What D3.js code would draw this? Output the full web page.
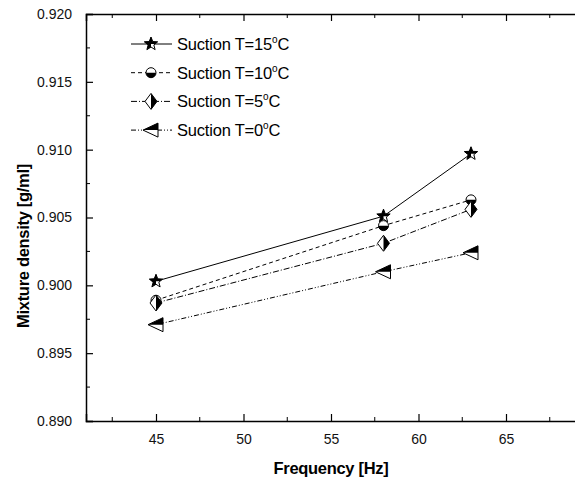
<!DOCTYPE html>
<html>
<head>
<meta charset="utf-8">
<script src="https://cdn.jsdelivr.net/npm/d3@7"></script>
<style>
  body { margin: 0; background: #fff; }
  svg { display: block; font-family: "Liberation Sans", Arial, sans-serif; }
</style>
</head>
<body>
<div id="container"></div>
<script>

const frequencies = [45, 58, 63];
const seriesNames = ["15", "10", "5", "0"];
const density15 = [0.9003, 0.9051, 0.9097];
const density10 = [0.8989, 0.9044, 0.9063];
const density5 = [0.8987, 0.9031, 0.9056];
const density0 = [0.8971, 0.9010, 0.9024];
const xTicks = [45, 50, 55, 60, 65];
const yTicks = [0.890, 0.895, 0.900, 0.905, 0.910, 0.915, 0.920];

function main() {
    const width = 575, height = 482;
    const margin = {left: 86, top: 14, right: 0, bottom: 61};

    const svg = d3.select("#container")
        .append("svg")
        .attr("width", width)
        .attr("height", height);

    const xScale = d3.scaleLinear()
        .domain([41, 69])
        .range([margin.left, margin.left + 28 * 17.5]);

    const yScale = d3.scaleLinear()
        .domain([0.890, 0.920])
        .range([height - margin.bottom, margin.top]);

    const defs = svg.append("defs");

    // axes: ticks point inward
    const xMinor = d3.range(42.5, 69, 5);
    const yMinor = d3.range(0.8925, 0.920, 0.005);

    const bottomAxis = svg.append("g")
        .attr("transform", `translate(0,${yScale(0.890)})`)
        .call(d3.axisBottom(xScale).tickValues(xTicks).tickSize(-7).tickPadding(13).tickFormat(d3.format("d")));
    bottomAxis.selectAll(".minor").data(xMinor).enter().append("line")
        .attr("x1", d => xScale(d)).attr("x2", d => xScale(d))
        .attr("y1", 0).attr("y2", -4).attr("stroke", "black");

    const topAxis = svg.append("g")
        .attr("transform", `translate(0,${yScale(0.920)})`)
        .call(d3.axisTop(xScale).tickValues(xTicks).tickSize(-7).tickFormat(""));
    topAxis.selectAll(".minor").data(xMinor).enter().append("line")
        .attr("x1", d => xScale(d)).attr("x2", d => xScale(d))
        .attr("y1", 0).attr("y2", 4).attr("stroke", "black");

    const leftAxis = svg.append("g")
        .attr("transform", `translate(${xScale(41)},0)`)
        .call(d3.axisLeft(yScale).tickValues(yTicks).tickSize(-7).tickPadding(14).tickFormat(d3.format(".3f")));
    leftAxis.selectAll(".minor").data(yMinor).enter().append("line")
        .attr("y1", d => yScale(d)).attr("y2", d => yScale(d))
        .attr("x1", 0).attr("x2", 4).attr("stroke", "black");

    svg.selectAll(".domain").attr("stroke-width", 1.5);
    svg.selectAll(".tick line").attr("stroke-width", 1.2);
    svg.selectAll(".tick text")
        .attr("font-size", 14)
        .attr("fill", "#111")
        .attr("font-family", "Liberation Sans, Arial, sans-serif");

    // axis titles
    svg.append("text")
        .attr("x", 331)
        .attr("y", 474)
        .attr("text-anchor", "middle")
        .attr("font-size", 16.5)
        .attr("font-weight", "bold")
        .attr("letter-spacing", -0.3)
        .text("Frequency [Hz]");

    svg.append("text")
        .attr("transform", "translate(29,246) rotate(-90)")
        .attr("text-anchor", "middle")
        .attr("font-size", 16.5)
        .attr("font-weight", "bold")
        .attr("letter-spacing", -0.3)
        .text("Mixture density [g/ml]");

    // half-fill clips
    const clips = {
        left: [-20, -20, 20, 40],
        right: [0, -20, 20, 40],
        top: [-20, -20, 40, 20],
        bottom: [-20, 0, 40, 20]
    };
    Object.entries(clips).forEach(([name, r]) => {
        defs.append("clipPath").attr("id", "clip-" + name)
            .append("rect").attr("x", r[0]).attr("y", r[1]).attr("width", r[2]).attr("height", r[3]);
    });

    const starPath = (() => {
        const pts = [];
        for (let i = 0; i < 10; i++) {
            const r = i % 2 === 0 ? 7 : 3;
            const a = -Math.PI / 2 + i * Math.PI / 5;
            pts.push([r * Math.cos(a), r * Math.sin(a)]);
        }
        return "M" + pts.map(p => p.join(",")).join("L") + "Z";
    })();

    const series = [
        {name: seriesNames[0], values: density15, dash: null,
            shape: starPath, half: "left"},
        {name: seriesNames[1], values: density10, dash: "4,3",
            shape: "M-5,0A5,5 0 1,0 5,0A5,5 0 1,0 -5,0Z", half: "bottom"},
        {name: seriesNames[2], values: density5, dash: "6,2,1,2",
            shape: "M0,-8L6,0L0,8L-6,0Z", half: "right"},
        {name: seriesNames[3], values: density0, dash: "5,2,1,2,1,2",
            shape: "M-8,0L7,-7L7,7Z", half: "top"}
    ];

    function drawMarker(g, s) {
        g.append("path").attr("d", s.shape)
            .attr("fill", "white").attr("stroke", "black").attr("stroke-width", 1);
        g.append("path").attr("d", s.shape)
            .attr("fill", "black").attr("clip-path", `url(#clip-${s.half})`);
        if (s.half === "left") {
            g.append("path").attr("d", s.shape)
                .attr("fill", "black").attr("clip-path", "url(#clip-top)");
        }
    }

    const line = d3.line()
        .x((d, i) => xScale(frequencies[i]))
        .y(d => yScale(d));

    series.forEach(s => {
        svg.append("path")
            .datum(s.values)
            .attr("fill", "none")
            .attr("stroke", "black")
            .attr("stroke-width", 1)
            .attr("stroke-dasharray", s.dash)
            .attr("d", line);
    });

    series.forEach(s => {
        s.values.forEach((v, i) => {
            const g = svg.append("g")
                .attr("transform", `translate(${xScale(frequencies[i])},${yScale(v)})`);
            drawMarker(g, s);
        });
    });

    // legend
    const legend = svg.append("g");
    series.forEach((s, i) => {
        const y = 44 + i * 28.7;
        legend.append("line")
            .attr("x1", 131).attr("x2", 172)
            .attr("y1", y).attr("y2", y)
            .attr("stroke", "black").attr("stroke-width", 1)
            .attr("stroke-dasharray", s.dash);
        const g = legend.append("g").attr("transform", `translate(151,${y})`);
        drawMarker(g, s);
        const t = legend.append("text")
            .attr("x", 177)
            .attr("y", y + 6)
            .attr("font-size", 16.5)
            .attr("letter-spacing", -0.2);
        t.append("tspan").text("Suction T=" + s.name);
        t.append("tspan").attr("font-size", 10).attr("dy", -7).text("o");
        t.append("tspan").attr("dy", 7).text("C");
    });
}

main();
</script>
</body>
</html>
